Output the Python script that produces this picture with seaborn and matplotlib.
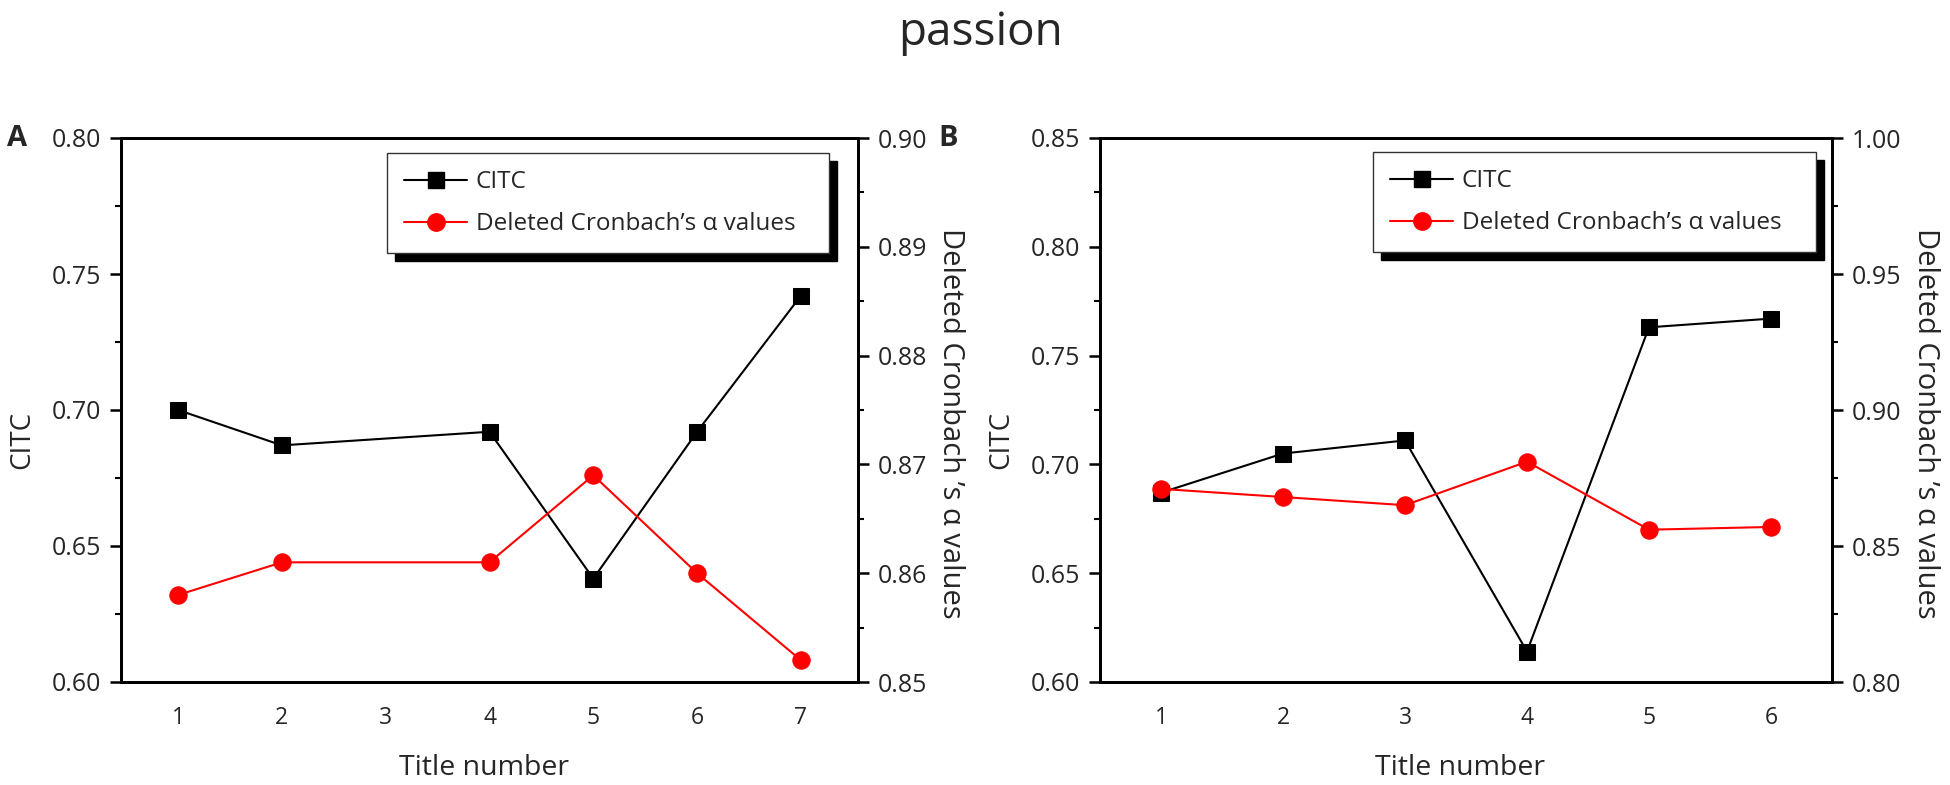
import matplotlib
matplotlib.use("Agg")
import matplotlib.pyplot as plt
import seaborn as sns
import numpy as np
from matplotlib.ticker import MultipleLocator, FormatStrFormatter
from matplotlib.lines import Line2D

# ---- data ----
title_a = [1, 2, 4, 5, 6, 7]
citc_a = [0.700, 0.687, 0.692, 0.638, 0.692, 0.742]
alpha_a = [0.858, 0.861, 0.861, 0.869, 0.860, 0.852]

title_b = [1, 2, 3, 4, 5, 6]
citc_b = [0.687, 0.705, 0.711, 0.614, 0.763, 0.767]
alpha_b = [0.871, 0.868, 0.865, 0.881, 0.856, 0.857]

xticks_a = [1, 2, 3, 4, 5, 6, 7]
xticks_b = [1, 2, 3, 4, 5, 6]

series_names = ['CITC', 'Deleted Cronbach\u2019s \u03b1 values']
right_label = 'Deleted Cronbach \u2019s \u03b1 values'

sns.set_theme(style="white")
plt.rcParams['font.family'] = ['Open Sans', 'DejaVu Sans']
plt.rcParams['axes.linewidth'] = 2.0

W, H = 1950, 785
TOP, BOT = 138, 682
fig = plt.figure(figsize=(W / 100, H / 100), dpi=100)

SQ, CI, LW = 11, 12.5, 1.5

def px_axes(l, r):
    return fig.add_axes([l / W, 1 - BOT / H, (r - l) / W, (BOT - TOP) / H])

def style_axis(ax):
    ax.tick_params(axis='both', which='major', direction='out', length=8, width=1.8,
                   color='black')
    ax.tick_params(axis='both', which='minor', direction='out', length=4.5, width=1.5,
                   color='black')
    ax.tick_params(axis='y', labelsize=18, pad=6)
    ax.tick_params(axis='x', labelsize=16.5, pad=9)
    for s in ax.spines.values():
        s.set_color('black')
        s.set_linewidth(2.0)

def panel(l, r, x, citc, alpha, xticks, xlim, ylim_l, ylim_r, rstep, letter, lx,
          leg_box, lcx, rcx):
    ax = px_axes(l, r)
    ax2 = ax.twinx()
    sns.lineplot(x=x, y=citc, ax=ax, color='black', marker='s', markersize=SQ,
                 markeredgecolor='black', linewidth=LW, legend=False)
    sns.lineplot(x=x, y=alpha, ax=ax2, color='red', marker='o', markersize=CI,
                 markeredgecolor='red', linewidth=LW, legend=False)
    ax.set_xlim(*xlim)
    ax.set_ylim(*ylim_l)
    ax2.set_ylim(*ylim_r)
    ax.set_xticks(xticks)
    ax.set_xticklabels([str(v) for v in xticks])
    ax.yaxis.set_major_locator(MultipleLocator(0.05))
    ax.yaxis.set_minor_locator(MultipleLocator(0.025))
    ax.yaxis.set_major_formatter(FormatStrFormatter('%.2f'))
    ax2.yaxis.set_major_locator(MultipleLocator(rstep))
    ax2.yaxis.set_minor_locator(MultipleLocator(rstep / 2))
    ax2.yaxis.set_major_formatter(FormatStrFormatter('%.2f'))
    style_axis(ax)
    style_axis(ax2)
    ax.tick_params(axis='x', which='minor', length=0)
    ax.tick_params(axis='y', which='both', left=True, right=False)
    ax2.tick_params(axis='y', which='both', left=False, right=True)
    ax.grid(False); ax2.grid(False)
    ax.set_xlabel('Title number', fontsize=20.5)
    ax.xaxis.label.set_va('baseline')
    ax.xaxis.set_label_coords(0.492, -0.171)
    ax.set_ylabel('CITC', fontsize=20)
    ax2.set_ylabel(right_label, fontsize=21, rotation=270)
    ax.yaxis.set_label_coords(lcx, 0.445)
    ax2.yaxis.set_label_coords(rcx, 0.475)
    fig.text(lx / W, 1 - 139 / H, letter, fontsize=21, fontweight='bold',
             ha='left', va='center')
    handles = [
        Line2D([], [], color='black', marker='s', markersize=SQ, linewidth=LW),
        Line2D([], [], color='red', marker='o', markersize=CI, linewidth=LW),
    ]
    w = r - l
    x0 = (leg_box[0] - l) / w
    x1 = (leg_box[1] - l) / w
    y1 = (BOT - leg_box[2]) / (BOT - TOP)
    y0 = (BOT - leg_box[3]) / (BOT - TOP)
    leg = ax2.legend(handles, series_names,
                     loc='upper left', bbox_to_anchor=(x0, y0, x1 - x0, y1 - y0),
                     mode='expand', borderaxespad=0, fontsize=17.5, frameon=True,
                     fancybox=False, framealpha=1, edgecolor='#333333', handlelength=2.6,
                     labelspacing=0.75, borderpad=0.7, handletextpad=0.35,
                     shadow={'color': 'black', 'alpha': 1, 'ox': 5.5, 'oy': -5.5})
    leg.get_frame().set_linewidth(1.0)
    return ax, ax2

panel(121, 858, title_a, citc_a, alpha_a, xticks_a, (0.45, 7.55), (0.60, 0.80),
      (0.85, 0.90), 0.01, 'A', 7, (387, 829, 153, 250), -0.115, 1.145)
panel(1100, 1832, title_b, citc_b, alpha_b, xticks_b, (0.5, 6.5), (0.60, 0.85),
      (0.80, 1.00), 0.05, 'B', 938, (1373, 1816, 152, 249), -0.116, 1.147)

fig.text(980 / W, 1 - 45 / H, 'passion', fontsize=33, ha='center', va='baseline')

fig.savefig('out.png', dpi=100, facecolor='white')
